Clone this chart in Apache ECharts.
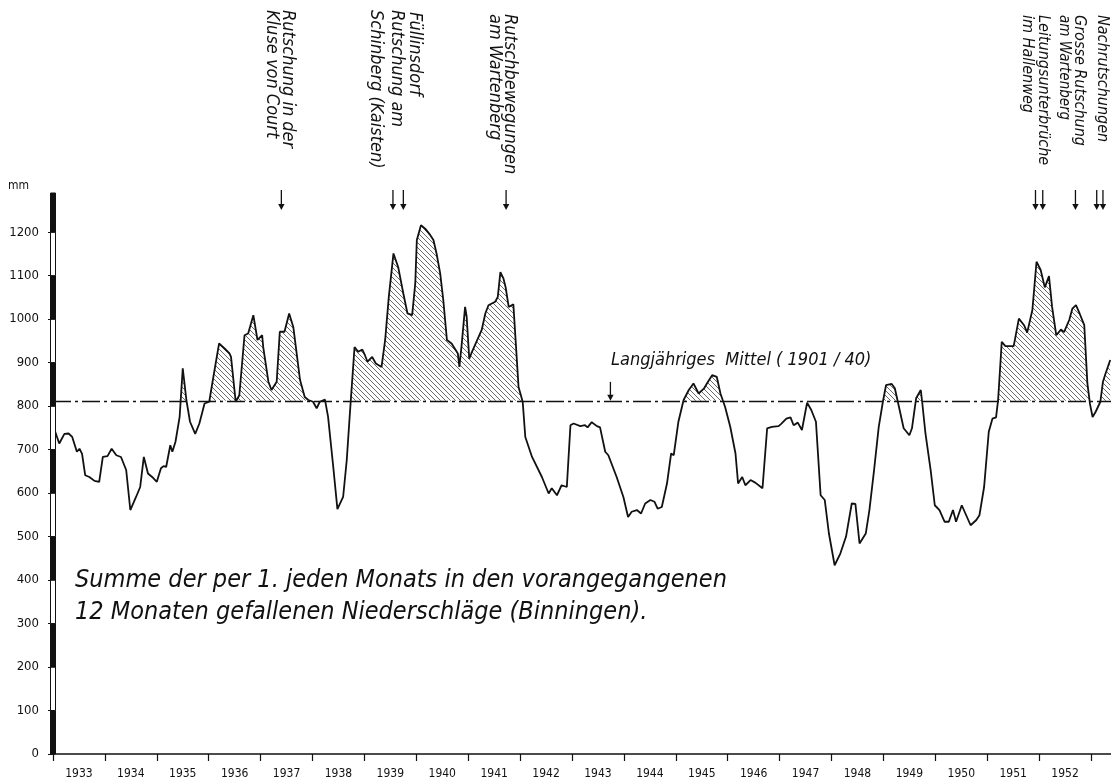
<!DOCTYPE html>
<html><head><meta charset="utf-8">
<script src="https://cdn.jsdelivr.net/npm/echarts@6/dist/echarts.min.js"></script>
<style>html,body{margin:0;padding:0;background:#fff}#c{width:1111px;height:784px}</style>
</head><body><div id="c"></div>
<script>
// ---- data ----
const years = [1933,1934,1935,1936,1937,1938,1939,1940,1941,1942,1943,1944,1945,1946,1947,1948,1949,1950,1951,1952];
const yTicks = [0,100,200,300,400,500,600,700,800,900,1000,1100,1200];
const meanValue = 812; // Langjähriges Mittel (1901/40)
const dates = [
 1933.00,1933.12,1933.22,1933.30,1933.37,1933.46,1933.51,1933.56,1933.62,1933.70,1933.80,1933.89,1933.96,
 1934.05,1934.13,1934.22,1934.31,1934.41,1934.49,1934.60,1934.68,1934.75,1934.83,1934.91,
 1935.00,1935.08,1935.13,1935.18,1935.26,1935.30,1935.36,1935.44,1935.50,1935.57,1935.64,1935.74,1935.82,1935.92,
 1936.01,1936.08,1936.20,1936.30,1936.40,1936.43,1936.52,1936.59,1936.69,1936.76,1936.86,1936.94,
 1937.03,1937.05,1937.15,1937.21,1937.31,1937.37,1937.46,1937.55,1937.63,1937.76,1937.85,1937.92,
 1938.01,1938.08,1938.14,1938.24,1938.30,1938.40,1938.48,1938.59,1938.66,1938.72,1938.81,1938.88,1938.96,
 1939.01,1939.06,1939.15,1939.22,1939.33,1939.40,1939.47,1939.56,1939.65,1939.75,1939.83,1939.92,1939.98,
 1940.01,1940.09,1940.17,1940.27,1940.33,1940.39,1940.46,1940.52,1940.59,1940.68,1940.80,1940.83,1940.87,1940.94,1940.97,
 1941.02,1941.06,1941.16,1941.26,1941.33,1941.39,1941.52,1941.57,1941.62,1941.68,1941.72,1941.78,1941.87,1941.97,
 1942.05,1942.10,1942.23,1942.42,1942.55,1942.61,1942.71,1942.80,1942.90,1942.97,
 1943.03,1943.16,1943.25,1943.30,1943.38,1943.48,1943.54,1943.64,1943.70,1943.86,1943.99,
 1944.08,1944.15,1944.25,1944.33,1944.41,1944.51,1944.59,1944.65,1944.73,1944.83,1944.91,1944.96,
 1945.05,1945.15,1945.25,1945.34,1945.44,1945.54,1945.62,1945.70,1945.79,1945.86,1945.95,
 1946.05,1946.15,1946.20,1946.28,1946.34,1946.44,1946.53,1946.67,1946.76,1946.85,1946.98,
 1947.03,1947.13,1947.21,1947.27,1947.35,1947.43,1947.53,1947.61,1947.70,1947.79,1947.87,1947.95,
 1948.06,1948.17,1948.28,1948.39,1948.46,1948.54,1948.66,1948.73,1948.82,1948.91,1948.99,
 1949.05,1949.16,1949.22,1949.30,1949.39,1949.50,1949.55,1949.63,1949.72,1949.75,1949.81,1949.91,1949.99,
 1950.08,1950.18,1950.26,1950.34,1950.40,1950.51,1950.58,1950.68,1950.79,1950.85,1950.94,
 1951.03,1951.10,1951.17,1951.21,1951.28,1951.35,1951.51,1951.61,1951.71,1951.77,1951.87,1951.95,
 1952.03,1952.11,1952.19,1952.25,1952.33,1952.42,1952.48,1952.58,1952.64,1952.71,1952.78,1952.87,1952.93,1952.98,
 1953.03,1953.09,1953.18,1953.23,1953.28,1953.37
];
const values = [
 756,714,736,737,729,695,702,690,641,637,628,626,683,
 685,702,687,683,653,561,591,614,683,645,637,
 626,657,662,660,710,695,718,775,887,814,764,736,760,806,
 810,860,944,933,921,913,810,825,963,967,1009,952,
 963,936,856,837,856,971,971,1013,982,860,821,814,
 810,795,810,815,775,660,563,591,676,783,936,925,930,
 917,902,913,898,890,952,1051,1151,1120,1059,1013,1009,1082,
 1182,1216,1208,1193,1182,1151,1105,1044,952,944,921,890,936,1028,1006,
 909,921,948,975,1013,1032,1040,1051,1108,1093,1074,1028,1034,844,
 810,729,683,637,599,611,595,618,614,756,
 760,754,756,751,763,754,751,695,687,637,591,
 545,557,561,553,576,584,580,564,568,622,691,687,
 764,814,837,852,829,840,856,871,867,829,798,
 752,691,622,637,618,630,624,611,749,752,754,
 759,771,774,756,762,745,808,791,764,595,584,507,
 434,461,500,576,575,484,507,561,653,752,810,
 848,851,841,798,749,733,749,818,837,806,737,653,572,
 561,534,534,561,534,572,553,526,538,549,614,
 741,771,774,814,948,938,938,1001,986,969,1021,1132,
 1113,1073,1099,1028,963,976,970,998,1024,1032,1013,986,852,805,
 775,787,810,856,875,906
];
const eventDates = [1937.40, 1939.55, 1939.75, 1941.73, 1951.93, 1952.07, 1952.70, 1953.11, 1953.23];
const meanArrowDate = 1943.74;

// ---- helpers ----
const X_MIN = 1933, X_MAX = 1953.385, Y_MAX = 1290;
const FONT = '"DejaVu Sans Condensed", "DejaVu Sans", sans-serif';
const series = dates.map((d, i) => [d, values[i]]);
// hatch polygon above the mean (crossing points found on each segment)
const hatchData = [];
for (let i = 0; i < series.length; i++) {
  const [t, v] = series[i];
  if (i > 0) {
    const [t0, v0] = series[i - 1];
    if ((v0 - meanValue) * (v - meanValue) < 0) {
      const f = (meanValue - v0) / (v - v0);
      hatchData.push([t0 + f * (t - t0), meanValue]);
    }
  }
  hatchData.push([t, Math.max(v, meanValue)]);
}
function hatchCanvas() {
  const s = 5, c = document.createElement('canvas'); c.width = s; c.height = s;
  const g = c.getContext('2d'); g.strokeStyle = '#444'; g.lineWidth = 0.8;
  g.beginPath();
  g.moveTo(0, 0); g.lineTo(s, s);
  g.moveTo(-1, s - 1); g.lineTo(1, s + 1);
  g.moveTo(s - 1, -1); g.lineTo(s + 1, 1);
  g.stroke();
  return c;
}
// alternating y-axis bar segments
const barSegs = [];
for (let i = 0; i < yTicks.length; i++) {
  const lo = yTicks[i], hi = i + 1 < yTicks.length ? yTicks[i + 1] : Y_MAX;
  barSegs.push([X_MIN, lo, hi, i % 2 === 0 ? 1 : 0]);
}

const chart = echarts.init(document.getElementById('c'), null, {renderer: 'canvas'});
chart.setOption({
  animation: false,
  backgroundColor: '#fff',
  grid: {left: 53, right: 0, top: 193, bottom: 30, containLabel: false},
  xAxis: {
    type: 'value', min: X_MIN, max: X_MAX,
    axisLine: {show: true, onZero: false, lineStyle: {color: '#111', width: 1.5}},
    axisTick: {show: true, customValues: years.concat([years[years.length - 1] + 1]), length: 7, lineStyle: {color: '#111', width: 1.2}},
    axisLabel: {show: true, customValues: years.map(y => y + 0.5), formatter: v => String(Math.floor(v)),
      margin: 14, color: '#111', fontSize: 12, fontFamily: FONT},
    splitLine: {show: false}
  },
  yAxis: {
    type: 'value', min: 0, max: Y_MAX,
    axisLine: {show: false},
    axisTick: {show: true, customValues: yTicks, length: 5, lineStyle: {color: '#111', width: 1}},
    axisLabel: {show: true, customValues: yTicks, formatter: v => String(v), margin: 14, color: '#111', fontSize: 13, fontFamily: FONT},
    splitLine: {show: false}
  },
  series: [
    {
      type: 'line', data: hatchData, symbol: 'none', silent: true, z: 1,
      lineStyle: {width: 0, opacity: 0},
      areaStyle: {color: {image: hatchCanvas(), repeat: 'repeat'}, origin: meanValue, opacity: 1}
    },
    {
      type: 'line', data: series, symbol: 'none', silent: true, z: 3,
      lineStyle: {color: '#111', width: 1.8},
      markLine: {
        silent: true, symbol: ['none', 'none'], label: {show: false},
        lineStyle: {color: '#111', width: 1.4, type: [18, 4, 3, 4]},
        data: [{yAxis: meanValue}]
      }
    },
    {
      type: 'custom', data: barSegs, silent: true, clip: false, z: 5,
      encode: {x: 0, y: 1},
      renderItem: (params, api) => {
        const p1 = api.coord([api.value(0), api.value(1)]);
        const p2 = api.coord([api.value(0), api.value(2)]);
        return {
          type: 'rect',
          shape: {x: p1[0] - 2.5, y: p2[1], width: 5, height: p1[1] - p2[1]},
          style: {fill: api.value(3) ? '#111' : '#fff', stroke: '#111', lineWidth: 1}
        };
      }
    }
  ]
});

// ---- annotations ----
const g = [];
function vtext(x, y, text, size) {
  g.push({type: 'text', x: x, y: y, rotation: -Math.PI / 2, silent: true,
    style: {text: text, fill: '#111', fontSize: size || 18, fontStyle: 'italic', fontFamily: FONT,
      align: 'left', verticalAlign: 'middle'}});
}
function arrow(x, y0, y1) {
  g.push({type: 'line', silent: true, shape: {x1: x, y1: y0, x2: x, y2: y1 - 4}, style: {stroke: '#111', lineWidth: 1.3}});
  g.push({type: 'polygon', silent: true, shape: {points: [[x - 3.2, y1 - 6], [x + 3.2, y1 - 6], [x, y1]]}, style: {fill: '#111'}});
}
vtext(288, 10, 'Rutschung in der');
vtext(272, 10, 'Kluse von Court');
vtext(415, 12, 'Füllinsdorf');
vtext(397, 10, 'Rutschung am');
vtext(376, 10, 'Schinberg (Kaisten)');
vtext(510, 14, 'Rutschbewegungen');
vtext(495, 14, 'am Wartenberg');
vtext(1102, 15, 'Nachrutschungen', 16);
vtext(1079, 15, 'Grosse Rutschung', 16);
vtext(1064, 15, 'am Wartenberg', 15);
vtext(1043, 15, 'Leitungsunterbrüche', 16);
vtext(1027, 15, 'im Hallenweg', 16);
eventDates.forEach(d => {
  const px = chart.convertToPixel({xAxisIndex: 0}, d);
  arrow(px, 190, 210);
});
const mx = chart.convertToPixel({xAxisIndex: 0}, meanArrowDate);
const my = chart.convertToPixel({yAxisIndex: 0}, meanValue);
arrow(mx, my - 19, my);
g.push({type: 'text', x: 611, y: 360, silent: true,
  style: {text: 'Langjähriges  Mittel ( 1901 / 40)', fill: '#111', fontSize: 18, fontStyle: 'italic', fontFamily: FONT, align: 'left', verticalAlign: 'middle'}});
g.push({type: 'text', x: 75, y: 580, silent: true,
  style: {text: 'Summe der per 1. jeden Monats in den vorangegangenen', fill: '#111', fontSize: 25, fontStyle: 'italic', fontFamily: FONT, align: 'left', verticalAlign: 'middle'}});
g.push({type: 'text', x: 75, y: 612, silent: true,
  style: {text: '12 Monaten gefallenen Niederschläge (Binningen).', fill: '#111', fontSize: 25, fontStyle: 'italic', fontFamily: FONT, align: 'left', verticalAlign: 'middle'}});
g.push({type: 'text', x: 8, y: 186, silent: true,
  style: {text: 'mm', fill: '#111', fontSize: 12, fontFamily: FONT, align: 'left', verticalAlign: 'middle'}});
chart.setOption({graphic: g});
</script>
</body></html>
